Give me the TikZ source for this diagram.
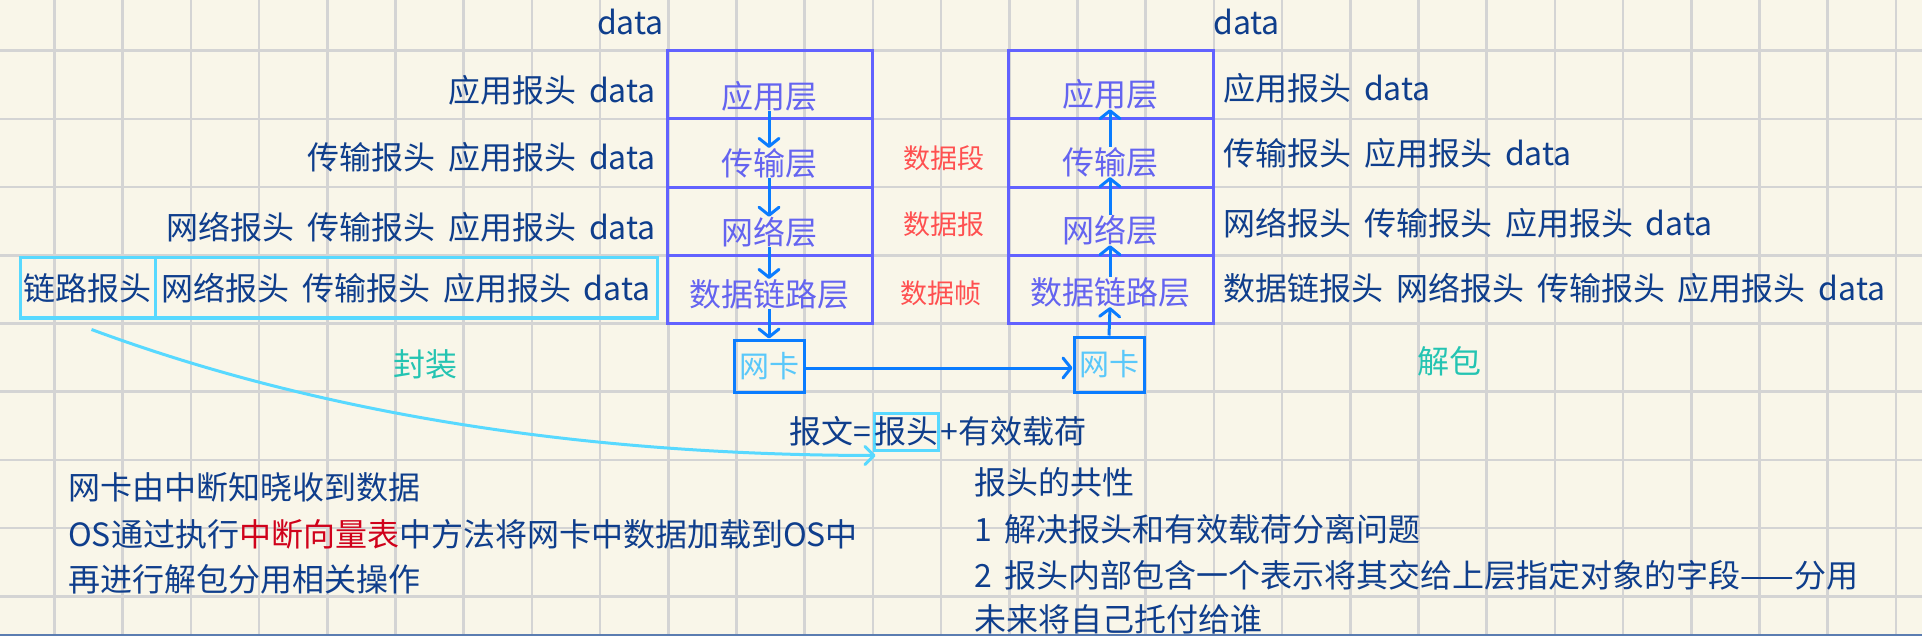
\documentclass[tikz,border=0pt]{standalone}
\usepackage{fontspec}
\setmainfont[WordSpace=1.8]{Noto Sans CJK SC}
\usetikzlibrary{arrows.meta}
\definecolor{bgc}{HTML}{F9F6E9}
\definecolor{gridc}{HTML}{D4D4D4}
\definecolor{navyc}{HTML}{0F3E8C}
\definecolor{layerc}{HTML}{6464F0}
\definecolor{boxc}{HTML}{6262FF}
\definecolor{arrowc}{HTML}{0A7CFF}
\definecolor{nicc}{HTML}{5AC8FA}
\definecolor{cyanc}{HTML}{58D9FF}
\definecolor{redl}{HTML}{FF5050}
\definecolor{redd}{HTML}{D0021B}
\definecolor{tealc}{HTML}{24C4B2}
\definecolor{borderc}{HTML}{5B7DB1}
\newcommand{\bigfont}{\fontsize{32}{38}\selectfont}
\newcommand{\midfont}{\fontsize{30}{36}\selectfont}
\newcommand{\smallfontx}{\fontsize{27}{32}\selectfont}
\tikzset{
  lbl/.style={text=navyc, font=\bigfont, inner sep=0pt},
  layertext/.style={text=layerc, font=\bigfont, inner sep=0pt},
  rowbox/.style={draw=boxc, line width=3pt, minimum width=205pt, minimum height=68.2pt, inner sep=0pt},
  nicbox/.style={draw=arrowc, line width=3pt, text=nicc, font=\midfont, minimum width=70pt, inner sep=0pt},
  cyanbox/.style={draw=cyanc, line width=3pt, minimum height=60pt, inner sep=0pt, text=navyc, font=\bigfont},
  pdu/.style={text=redl, font=\smallfontx, inner sep=0pt},
  actlbl/.style={text=tealc, font=\bigfont, inner sep=0pt},
  arr/.style={draw=arrowc, line width=3pt, -{Straight Barb[length=8pt,width=20pt,round]}},
  gridline/.style={draw=gridc, line width=2.5pt}
}
\begin{document}
\begin{tikzpicture}[x=1pt,y=-1pt]
\fill[bgc] (0,0) rectangle (1922,636);
\useasboundingbox (0,0) rectangle (1922,636);
% grid
\foreach \k in {0,...,27} \draw[gridline] ({54.5+68.2*\k},0) -- ({54.5+68.2*\k},636);
\foreach \j in {0,...,8} \draw[gridline] (0,{50.7+68.2*\j}) -- (1922,{50.7+68.2*\j});
\draw[borderc, line width=2pt] (0,635) -- (1922,635);

% left stack rows
\node[rowbox] (lr1) at (769.5,84.8) {};
\node[rowbox] (lr2) at (769.5,153) {};
\node[rowbox] (lr3) at (769.5,221.2) {};
\node[rowbox] (lr4) at (769.5,289.4) {};
% right stack rows
\node[rowbox] (rr1) at (1110.5,84.8) {};
\node[rowbox] (rr2) at (1110.5,153) {};
\node[rowbox] (rr3) at (1110.5,221.2) {};
\node[rowbox] (rr4) at (1110.5,289.4) {};

% layer texts
\node[layertext] (la) at (769,96) {应用层};
\node[layertext] (lt) at (769,163) {传输层};
\node[layertext] (ln) at (769,232) {网络层};
\node[layertext] (ld) at (769,294) {数据链路层};
\node[layertext] (ra) at (1110,94) {应用层};
\node[layertext] (rt) at (1110,162) {传输层};
\node[layertext] (rn) at (1110,230) {网络层};
\node[layertext] (rd) at (1110,292) {数据链路层};

% NIC boxes
\node[nicbox, minimum height=52pt] (lnic) at (769,366) {网卡};
\node[nicbox, minimum height=55pt] (rnic) at (1109,364.5) {网卡};

% arrows
\draw[arr] (la.south) -- (lt.north);
\draw[arr] (lt.south) -- (ln.north);
\draw[arr] (ln.south) -- (ld.north);
\draw[arr] (ld.south) -- (lnic.north);
\draw[arr] (rnic.north) -- (rd.south);
\draw[arr] (rd.north) -- (rn.south);
\draw[arr] (rn.north) -- (rt.south);
\draw[arr] (rt.north) -- (ra.south);
\draw[arr] ([yshift=-2pt]lnic.east) -- ([yshift=-2pt]lnic.east -| rnic.west);

% PDU labels
\node[pdu] (seg) at (944,158) {数据段};
\node[pdu] (dgram) at (944,224) {数据报};
\node[pdu] (frame) at (941,293) {数据帧};

% left labels
\node[lbl, anchor=base east] (ld0) at (664,35) {data};
\node[lbl, anchor=east] (ld1) at (656,90) {应用报头 data};
\node[lbl, anchor=east] (ld2) at (656,157) {传输报头 应用报头 data};
\node[lbl, anchor=east] (ld3) at (656,227) {网络报头 传输报头 应用报头 data};
\node[cyanbox, minimum width=135pt] (lk) at (87.5,288) {链路报头};
\node[cyanbox, minimum width=502pt] (lrest) at (406,288) {网络报头 传输报头 应用报头 data};

% right labels
\node[lbl, anchor=base west] (rd0) at (1213,35) {data};
\node[lbl, anchor=west] (rd1) at (1223,88) {应用报头 data};
\node[lbl, anchor=west] (rd2) at (1223,153) {传输报头 应用报头 data};
\node[lbl, anchor=west] (rd3) at (1223,223) {网络报头 传输报头 应用报头 data};
\node[lbl, anchor=west] (rd4) at (1223,288) {数据链报头 网络报头 传输报头 应用报头 data};

% action labels
\node[actlbl] (enc) at (425,364) {封装};
\node[actlbl] (dec) at (1449,361) {解包};

% message formula
\node[draw=cyanc, line width=3pt, minimum width=64pt, minimum height=37pt, inner sep=0pt, text=navyc, font=\bigfont] (hd) at (906,431.5) {报头};
\node[lbl, anchor=east] (bw) at ([xshift=-1pt]hd.west) {报文=};
\node[lbl, anchor=west] (pl) at ([xshift=1pt]hd.east) {+有效载荷};

% curved arrow
\draw[draw=cyanc, line width=3pt, -{Straight Barb[length=9pt,width=18pt,round]}]
  ([xshift=4pt,yshift=-10pt]lk.south) .. controls (317,413) and (579,455) .. ([xshift=3pt,yshift=-4pt]hd.south west);

% bottom left notes
\node[lbl, anchor=west] (n1) at (68,487) {网卡由中断知晓收到数据};
\node[lbl, anchor=west] (n2) at (68,534) {OS通过执行{\color{redd}中断向量表}中方法将网卡中数据加载到OS中};
\node[lbl, anchor=west] (n3) at (68,579) {再进行解包分用相关操作};

% bottom right notes
\node[lbl, anchor=west] (m1) at (974,482) {报头的共性};
\node[lbl, anchor=west] (m2) at (974,529) {1 解决报头和有效载荷分离问题};
\node[lbl, anchor=west] (m3) at (974,575) {2 报头内部包含一个表示将其交给上层指定对象的字段——分用};
\node[lbl, anchor=west] (m4) at (974,619) {未来将自己托付给谁};
\end{tikzpicture}
\end{document}
